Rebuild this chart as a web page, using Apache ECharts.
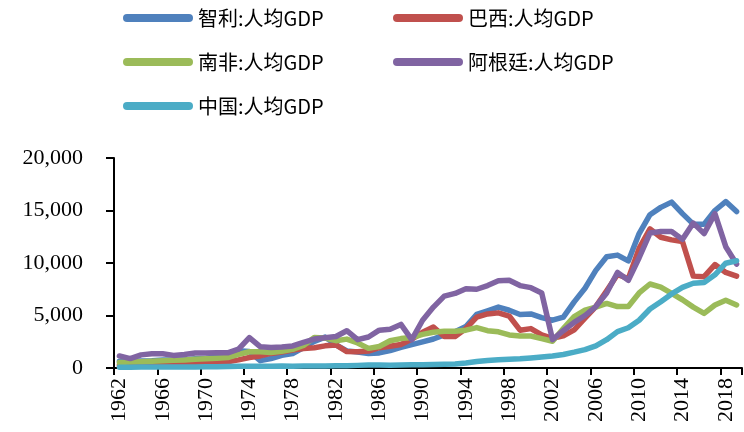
<!DOCTYPE html>
<html>
<head>
<meta charset="utf-8">
<script src="https://cdn.jsdelivr.net/npm/echarts@6/dist/echarts.min.js"></script>
<style>
  html, body { margin: 0; padding: 0; background: #fff; }
  #chart { width: 744px; height: 432px; }
</style>
</head>
<body>
<div id="chart"></div>
<script>
const years = []
for (let y = 1962; y <= 2019; y++) years.push(String(y))

const seriesNames = ['智利:人均GDP', '巴西:人均GDP', '南非:人均GDP', '阿根廷:人均GDP', '中国:人均GDP']
const colors = ['#4F81BD', '#C0504D', '#9BBB59', '#8064A2', '#4BACC6']

// 1962 - 2019
const chile = [
  640, 650, 660, 690, 770, 760, 760, 880, 930, 1080,
  1100, 1640, 1580, 700, 900, 1200, 1380, 1950, 2540, 2940,
  2210, 1630, 1530, 1380, 1440, 1650, 1960, 2230, 2490, 2760,
  3150, 3450, 3950, 5100, 5450, 5800, 5500, 5100, 5150, 4800,
  4550, 4850, 6300, 7600, 9300, 10600, 10750, 10200, 12800, 14600,
  15300, 15800, 14700, 13700, 13700, 15000, 15850, 14900
]
const brazil = [
  260, 290, 260, 260, 320, 350, 370, 400, 440, 500,
  580, 770, 1000, 1150, 1390, 1530, 1700, 1860, 1930, 2110,
  2200, 1560, 1550, 1610, 1930, 2080, 2240, 2750, 3400, 3900,
  3000, 3000, 3750, 4850, 5150, 5250, 4950, 3600, 3750, 3150,
  2830, 3060, 3640, 4750, 5850, 7350, 8900, 8500, 11400, 13250,
  12450, 12200, 12050, 8750, 8700, 9850, 9100, 8750
]
const southAfrica = [
  520, 560, 600, 640, 680, 730, 760, 830, 870, 930,
  990, 1290, 1550, 1550, 1470, 1590, 1770, 2140, 2900, 2860,
  2600, 2750, 2380, 1870, 2050, 2600, 2800, 2900, 3200, 3400,
  3500, 3500, 3600, 3850, 3550, 3450, 3150, 3050, 3050, 2800,
  2550, 3750, 4900, 5500, 5800, 6150, 5850, 5850, 7150, 8000,
  7700, 7100, 6500, 5800, 5200, 6000, 6450, 6000
]
const argentina = [
  1150, 900, 1250, 1350, 1350, 1200, 1280, 1420, 1420, 1450,
  1450, 1800, 2900, 2030, 1960, 2000, 2100, 2450, 2760, 2880,
  3000, 3550, 2700, 2950, 3600, 3700, 4150, 2700, 4550, 5800,
  6850, 7100, 7550, 7500, 7850, 8300, 8350, 7850, 7650, 7150,
  2700, 3550, 4350, 5000, 5850, 7150, 9100, 8350, 10500, 12850,
  13000, 13000, 12250, 13800, 12800, 14700, 11550, 9900
]
const china = [
  70, 74, 85, 98, 104, 96, 91, 100, 113, 118,
  132, 157, 160, 178, 165, 185, 156, 183, 195, 197,
  203, 225, 250, 294, 282, 251, 284, 311, 318, 333,
  366, 377, 473, 610, 709, 782, 829, 873, 959, 1053,
  1149, 1289, 1509, 1753, 2099, 2694, 3468, 3832, 4550, 5618,
  6317, 7051, 7679, 8067, 8148, 8879, 9977, 10217
]
const seriesData = [chile, brazil, southAfrica, argentina, china]

const serifFont = 'Liberation Serif'
const cjkFont = 'Noto Sans CJK SC'
const pill = 'path://M4,0H66A4,4 0 0 1 66,8H4A4,4 0 0 1 4,0Z'

const legendBase = {
  orient: 'vertical',
  top: 6,
  padding: 0,
  itemWidth: 70,
  itemHeight: 8,
  itemGap: 20,
  icon: pill,
  textStyle: { color: '#000', fontFamily: cjkFont, fontSize: 20, lineHeight: 24 }
}

const chart = echarts.init(document.getElementById('chart'))
chart.setOption({
  animation: false,
  backgroundColor: '#fff',
  color: colors,
  legend: [
    { ...legendBase, left: 123, data: [seriesNames[0], seriesNames[2], seriesNames[4]] },
    { ...legendBase, left: 393, data: [seriesNames[1], seriesNames[3]] }
  ],
  grid: { left: 114, right: 2, top: 158, bottom: 64, containLabel: false },
  xAxis: {
    type: 'category',
    data: years,
    boundaryGap: true,
    axisLine: { lineStyle: { color: '#000', width: 2 } },
    axisTick: { show: true, length: 7, interval: 3, lineStyle: { color: '#000', width: 2 } },
    axisLabel: {
      interval: 3,
      rotate: 90,
      margin: 10,
      color: '#000',
      fontFamily: serifFont,
      fontSize: 22
    },
    splitLine: { show: false }
  },
  yAxis: {
    type: 'value',
    min: 0,
    max: 20000,
    interval: 5000,
    axisLine: { show: true, lineStyle: { color: '#000', width: 2 } },
    axisTick: { show: true, length: 8, lineStyle: { color: '#000', width: 2 } },
    axisLabel: {
      margin: 31,
      color: '#000',
      fontFamily: serifFont,
      fontSize: 22,
      formatter: v => v.toLocaleString('en-US')
    },
    splitLine: { show: false }
  },
  series: seriesNames.map((name, i) => ({
    name,
    type: 'line',
    data: seriesData[i],
    symbol: 'none',
    lineStyle: { width: 5.5, cap: 'round', join: 'round', color: colors[i] },
    itemStyle: { color: colors[i] }
  }))
})
</script>
</body>
</html>
